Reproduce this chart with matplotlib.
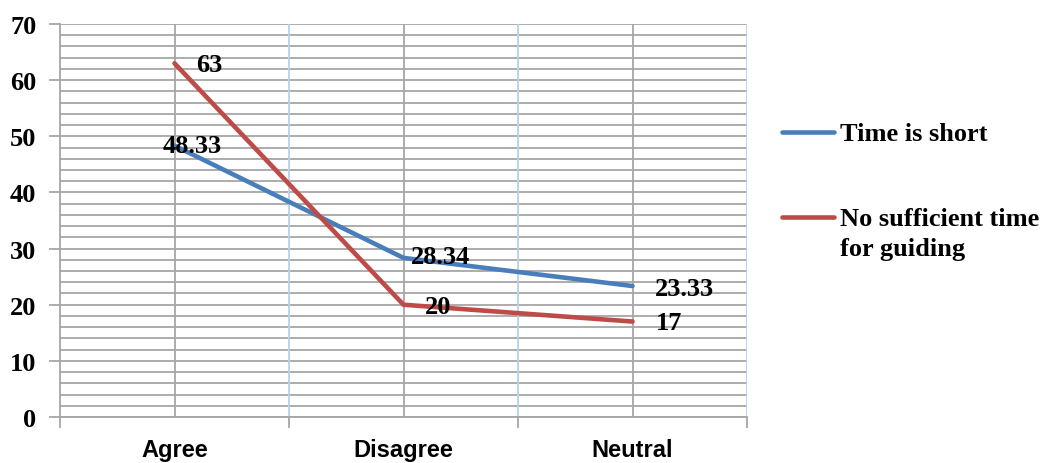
import matplotlib
matplotlib.use("Agg")
import matplotlib.pyplot as plt
from matplotlib.lines import Line2D
import numpy as np

categories = ["Agree", "Disagree", "Neutral"]
series_names = ["Time is short", "No sufficient time\nfor guiding"]
time_short = [48.33, 28.34, 23.33]
no_time = [63, 20, 17]
label_short = ["48.33", "28.34", "23.33"]
label_no = ["63", "20", "17"]

BLUE = "#4a7ebb"
RED = "#be4b48"
GRID = "#a6a6a6"
LBLUE = "#b9d1ee"

W, H = 1041, 464
fig = plt.figure(figsize=(W / 100, H / 100), dpi=100)
ax = fig.add_axes([60 / W, 1 - 418 / H, (747 - 60) / W, (418 - 25) / H])

x = np.arange(len(categories))
ax.set_xlim(-0.5, len(categories) - 0.5)
ax.set_ylim(0, 70)

# horizontal grid (major + minor)
ax.set_yticks(np.arange(0, 71, 10))
ax.set_yticks(np.arange(0, 71, 2), minor=True)
ax.yaxis.grid(True, which="both", color=GRID, lw=1.3)
ax.tick_params(axis="y", which="minor", length=0)
ax.tick_params(axis="y", which="major", length=8, width=1.3, color=GRID, pad=9)
ax.set_axisbelow(True)

# vertical grid
for xi in x:
    ax.axvline(xi, color=GRID, lw=1.3, zorder=1)
for xb in np.arange(0.5, len(categories), 1.0):
    ax.axvline(xb, color=LBLUE, lw=1.3, zorder=1)

# x ticks at boundaries, labels at categories
ax.set_xticks(np.arange(-0.5, len(categories), 1.0))
ax.set_xticklabels([])
ax.tick_params(axis="x", which="major", length=8, width=1.3, color=GRID, direction="out")
ax.set_xticks(x, minor=True)
ax.set_xticklabels(categories, minor=True, fontfamily="Liberation Sans",
                   fontweight="bold", fontsize=17)
ax.tick_params(axis="x", which="minor", length=0, pad=15)

for lbl in ax.get_yticklabels():
    lbl.set_fontfamily("Liberation Serif")
    lbl.set_fontweight("bold")
    lbl.set_fontsize(19)

for s in ["top", "right"]:
    ax.spines[s].set_visible(False)
ax.spines["left"].set_color(GRID)
ax.spines["left"].set_linewidth(1.3)
ax.spines["bottom"].set_color(GRID)
ax.spines["bottom"].set_linewidth(1.3)

ax.plot(x, time_short, color=BLUE, lw=3.3, solid_capstyle="round", zorder=3)
ax.plot(x, no_time, color=RED, lw=3.3, solid_capstyle="round", zorder=3)

tkw = dict(fontfamily="Liberation Serif", fontweight="bold", fontsize=19,
           color="black", zorder=4)
# data labels (offsets in points)
offs_short = [(13, 0, "center"), (5, 1, "left"), (16, -2, "left")]
offs_no = [(25, -1, "center"), (25, -1, "center"), (17, -1, "left")]
for xi, v, t, (dx, dy, ha) in zip(x, time_short, label_short, offs_short):
    ax.annotate(t, (xi, v), xytext=(dx, dy), textcoords="offset points",
                ha=ha, va="center", **tkw)
for xi, v, t, (dx, dy, ha) in zip(x, no_time, label_no, offs_no):
    ax.annotate(t, (xi, v), xytext=(dx, dy), textcoords="offset points",
                ha=ha, va="center", **tkw)

# legend (manual)
def fx(px):
    return px / W

def fy(py):
    return 1 - py / H

for py, col, name in [(133, BLUE, series_names[0]), (218, RED, series_names[1])]:
    fig.add_artist(Line2D([fx(782), fx(834)], [fy(py), fy(py)], color=col, lw=3.3,
                          solid_capstyle="round", transform=fig.transFigure))
    fig.text(fx(840), fy(py - 10), name, fontfamily="Liberation Serif",
             fontweight="bold", fontsize=19, ha="left", va="top", linespacing=1.4)

fig.savefig("out.png", dpi=100)
